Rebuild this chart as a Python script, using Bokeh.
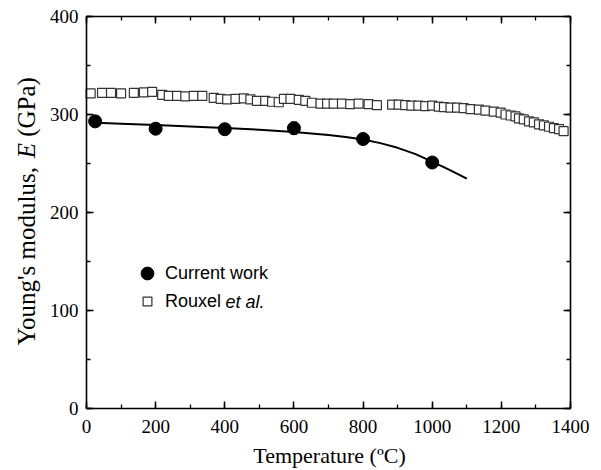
import math
from bokeh.plotting import figure
from bokeh.models import (Range1d, LinearAxis, SingleIntervalTicker, Label, Legend,
                          LegendItem, Whisker, ColumnDataSource, TeeHead,
                          CustomJSTickFormatter)
from bokeh.embed import file_html
from bokeh.resources import INLINE

# ---- data ----
cur_T = [25, 200, 400, 600, 800, 1000]
cur_E = [293, 285.5, 285, 286, 275, 251]
cur_err = [3, 3, 2, 6, 2, 2]

fit_T = [10, 100, 200, 300, 400, 500, 600, 700, 750, 800, 850, 900, 950, 1000, 1050, 1100]
fit_E = [291.8, 290.6, 289.2, 287.8, 286.3, 284.5, 282.2, 279.0, 277.0, 274.5, 270.8,
         266.0, 259.8, 252.0, 243.5, 234.5]

rx_T = [12, 45, 71, 100, 137, 166, 190, 219, 238, 262, 286, 310, 335, 368, 388, 407, 431,
        455, 474, 493, 517, 537, 556, 571, 590, 614, 633, 652, 677, 696, 715, 739, 763,
        787, 816, 840, 884, 903, 922, 940, 960, 980, 1000, 1019, 1034, 1053, 1072, 1091,
        1111, 1135, 1154, 1178, 1198, 1212, 1227, 1241, 1251, 1265, 1280, 1294, 1309,
        1323, 1338, 1352, 1367, 1380]
rx_E = [321.5, 322, 322, 321.5, 322, 322.5, 323, 320, 319, 319, 318.5, 319, 319, 317, 316,
        315.5, 316, 316.5, 315.5, 314, 314, 313, 312.5, 316, 316, 315, 314, 312, 311, 311,
        311, 311, 310.5, 311, 310.5, 309.5, 310, 310, 309.5, 309, 309, 308.5, 309, 308,
        307.5, 307, 307, 306.5, 305.5, 305, 304, 303, 302, 300, 299, 298, 296, 295, 293,
        292, 290, 289, 287.5, 286, 285, 283]

x_bounds = (0, 1400)
y_bounds = (0, 400)
x_ticks_interval = 200
y_ticks_interval = 100

# ---- layout: the frame fills the canvas; axes sit at fixed data locations ----
W, H = 601, 470
AX_L, AX_R, AX_T, AX_B = 86, 570, 16, 408      # axis box in canvas px
PX = (AX_R - AX_L) / (x_bounds[1] - x_bounds[0])
PY = (AX_B - AX_T) / (y_bounds[1] - y_bounds[0])

def xd(px):
    return x_bounds[0] + (px - AX_L) / PX

def yd(py):
    return y_bounds[0] + (AX_B - py) / PY

p = figure(width=W, height=H, output_backend="svg", toolbar_location=None,
           x_range=Range1d(xd(0), xd(W)), y_range=Range1d(yd(H), yd(0)),
           x_axis_location=None, y_axis_location=None, min_border=0)
p.outline_line_color = None
p.xgrid.visible = False
p.ygrid.visible = False
p.background_fill_color = "white"
p.border_fill_color = "white"

SERIF = "Liberation Serif"
blank = CustomJSTickFormatter(code="return ''")

def make_axis(interval, bounds, fixed, show_labels):
    ax = LinearAxis(ticker=SingleIntervalTicker(interval=interval, num_minor_ticks=2),
                    bounds=bounds, fixed_location=fixed)
    ax.axis_line_color = "black"
    ax.axis_line_width = 1.6
    ax.major_tick_line_color = "black"
    ax.major_tick_line_width = 1.5
    ax.minor_tick_line_color = "black"
    ax.minor_tick_line_width = 1.3
    ax.major_tick_in = 7
    ax.major_tick_out = 0
    ax.minor_tick_in = 4
    ax.minor_tick_out = 0
    ax.major_label_text_font = SERIF
    ax.major_label_text_color = "black"
    ax.major_label_text_font_size = "19px"
    if not show_labels:
        ax.formatter = blank
    return ax

ax_b = make_axis(x_ticks_interval, x_bounds, y_bounds[0], True)
ax_b.major_label_standoff = 11
p.add_layout(ax_b, "below")
p.add_layout(make_axis(x_ticks_interval, x_bounds, y_bounds[1], False), "above")
ax_l = make_axis(y_ticks_interval, y_bounds, x_bounds[0], True)
ax_l.major_label_standoff = 8
p.add_layout(ax_l, "left")
p.add_layout(make_axis(y_ticks_interval, y_bounds, x_bounds[1], False), "right")

# ---- data marks ----
r_rx = p.scatter(rx_T, rx_E, marker="square", size=9, fill_color="white",
                 line_color="#333333", line_width=1.2)
p.line(fit_T, fit_E, line_color="black", line_width=2)
src = ColumnDataSource(dict(x=cur_T, y=cur_E,
                            lo=[e - d for e, d in zip(cur_E, cur_err)],
                            hi=[e + d for e, d in zip(cur_E, cur_err)]))
p.add_layout(Whisker(source=src, base="x", upper="hi", lower="lo", line_color="black",
                     line_width=1.5,
                     upper_head=TeeHead(size=6, line_color="black", line_width=1.5),
                     lower_head=TeeHead(size=6, line_color="black", line_width=1.5)))
r_cur = p.scatter("x", "y", source=src, marker="circle", size=13, fill_color="black",
                  line_color="black")

# ---- legend ----
LEG_FONT = "Liberation Sans"
LEG_SIZE = "18px"
leg1 = Legend(items=[LegendItem(label="Current work", renderers=[r_cur])],
              location=(131, H - 273 - 16), glyph_width=32, glyph_height=32,
              label_standoff=2, padding=0, margin=0, border_line_color=None,
              background_fill_alpha=0, label_text_font=LEG_FONT,
              label_text_font_size=LEG_SIZE, label_text_color="black")
leg2 = Legend(items=[LegendItem(label="Rouxel", renderers=[r_rx])],
              location=(136, H - 301 - 11), glyph_width=22, glyph_height=22,
              label_standoff=7, padding=0, margin=0, border_line_color=None,
              background_fill_alpha=0, label_text_font=LEG_FONT,
              label_text_font_size=LEG_SIZE, label_text_color="black")
p.add_layout(leg1, "center")
p.add_layout(leg2, "center")
p.add_layout(Label(x=xd(225), y=yd(301), text="et al.", text_font=LEG_FONT,
                   text_font_size=LEG_SIZE, text_font_style="italic",
                   text_baseline="middle", text_align="left", text_color="black"))

# ---- axis titles ----
p.add_layout(Label(x=xd(329), y=yd(455), text="Temperature (ºC)", text_font=SERIF,
                   text_font_size="22px", text_align="center", text_baseline="middle",
                   text_color="black"))

YL = 25
w1 = 7.486 * YL          # "Young's modulus, "
w2 = (0.611 + 0.25) * YL  # "E" + space
ystart = 345
pieces = [("Young's modulus,", "normal", 0),
          ("E", "italic", w1),
          ("(GPa)", "normal", w1 + w2)]
for txt, style, off in pieces:
    p.add_layout(Label(x=xd(26), y=yd(ystart - off), text=txt, angle=math.pi / 2,
                       text_font=SERIF, text_font_size=f"{YL}px", text_font_style=style,
                       text_align="left", text_baseline="middle", text_color="black"))

open("out.html", "w").write(file_html(p, INLINE))
